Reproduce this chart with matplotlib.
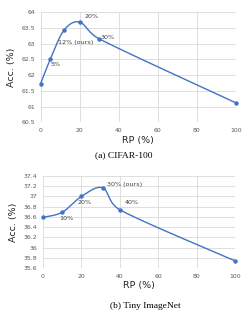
import numpy as np
import matplotlib
matplotlib.use("Agg")
import matplotlib.pyplot as plt

# Data
cifar_rp = [0, 5, 12, 20, 30, 100]
cifar_acc = [61.72, 62.5, 63.42, 63.68, 63.15, 61.12]
cifar_labels = ["", "5%", "12% (ours)", "20%", "30%", ""]

tiny_rp = [0, 10, 20, 31, 40, 100]
tiny_acc = [36.59, 36.69, 37.0, 37.17, 36.74, 35.74]
tiny_labels = ["", "10%", "20%", "30% (ours)", "40%", ""]

cifar_yticks = [60.5, 61, 61.5, 62, 62.5, 63, 63.5, 64]
cifar_yticklabels = ["60.5", "61", "61.5", "62", "62.5", "63", "63.5", "64"]
tiny_yticks = [35.6, 35.8, 36.0, 36.2, 36.4, 36.6, 36.8, 37.0, 37.2, 37.4]
tiny_yticklabels = ["35.6", "35.8", "36", "36.2", "36.4", "36.6", "36.8", "37", "37.2", "37.4"]
xticks = [0, 20, 40, 60, 80, 100]


def smooth(ax, xs, ys, n=60):
    """Excel-like smoothing: cubic Bezier, tangent from neighbours, length capped, in display space."""
    fig.canvas.draw()
    P = ax.transData.transform(np.column_stack([xs, ys]).astype(float))
    out = []
    m = len(P)
    for i in range(m - 1):
        p0 = P[i - 1] if i > 0 else P[i]
        p1 = P[i]
        p2 = P[i + 1]
        p3 = P[i + 2] if i + 2 < m else P[i + 1]
        seg_len = np.linalg.norm(p2 - p1)
        t1 = p2 - p0
        t2 = p3 - p1
        n1 = np.linalg.norm(t1)
        n2 = np.linalg.norm(t2)
        l1 = min(n1 / 6.0, seg_len / 2.0)
        l2 = min(n2 / 6.0, seg_len / 2.0)
        c1 = p1 + (t1 / n1 * l1 if n1 > 0 else 0)
        c2 = p2 - (t2 / n2 * l2 if n2 > 0 else 0)
        t = np.linspace(0, 1, n)[:, None]
        seg = ((1 - t) ** 3) * p1 + 3 * ((1 - t) ** 2) * t * c1 + 3 * (1 - t) * t ** 2 * c2 + t ** 3 * p2
        out.append(seg if i == 0 else seg[1:])
    S = ax.transData.inverted().transform(np.vstack(out))
    return S[:, 0], S[:, 1]


W, H = 247, 319
fig = plt.figure(figsize=(W / 100, H / 100), dpi=100)

line_color = "#4472C4"
grid_color = "#D9D9D9"
tick_color = "#595959"


def setup(ax, yticks, yticklabels, ylim):
    ax.set_xlim(0, 100)
    ax.set_ylim(*ylim)
    ax.set_xticks(xticks)
    ax.set_xticklabels([str(v) for v in xticks])
    ax.set_yticks(yticks)
    ax.set_yticklabels(yticklabels)
    ax.tick_params(axis="both", length=0, labelsize=4.4, labelcolor=tick_color, pad=4)
    ax.grid(True, color=grid_color, linewidth=0.6)
    ax.set_axisbelow(True)
    for s in ax.spines.values():
        s.set_visible(False)
    ax.set_xlabel("RP (%)", fontsize=6.8, color="#262626", labelpad=2)
    ax.set_ylabel("Acc. (%)", fontsize=6.8, color="#262626", labelpad=4)


# Top: CIFAR-100
ax1 = fig.add_axes([40.5 / W, 1 - 122.5 / H, (236 - 40.5) / W, (122.5 - 12) / H])
setup(ax1, cifar_yticks, cifar_yticklabels, (60.5, 64))
# Bottom: Tiny ImageNet
ax2 = fig.add_axes([43 / W, 1 - 268 / H, (235 - 43) / W, (268 - 176) / H])
setup(ax2, tiny_yticks, tiny_yticklabels, (35.6, 37.4))

sx, sy = smooth(ax1, cifar_rp, cifar_acc)
ax1.plot(sx, sy, color=line_color, linewidth=1.0, clip_on=False)
ax1.plot(cifar_rp, cifar_acc, "o", color=line_color, markersize=2.2, clip_on=False)
cifar_text_pos = [None, (5.1, 62.34), (9.2, 63.04), (22.6, 63.87), (30.8, 63.2), None]
for lab, pos in zip(cifar_labels, cifar_text_pos):
    if lab and pos:
        ax1.text(pos[0], pos[1], lab, fontsize=4.6, color="#404040", va="center", ha="left")

sx, sy = smooth(ax2, tiny_rp, tiny_acc)
ax2.plot(sx, sy, color=line_color, linewidth=1.0, clip_on=False)
ax2.plot(tiny_rp, tiny_acc, "o", color=line_color, markersize=2.2, clip_on=False)
tiny_text_pos = [None, (8.3, 36.56), (18.2, 36.89), (33.3, 37.24), (42.7, 36.89), None]
for lab, pos in zip(tiny_labels, tiny_text_pos):
    if lab and pos:
        ax2.text(pos[0], pos[1], lab, fontsize=4.6, color="#404040", va="center", ha="left")

# Captions
fig.text(124 / W, 1 - 155 / H, "(a) CIFAR-100", fontsize=6.8, family="Liberation Serif",
         ha="center", va="center", color="black")
fig.text(145 / W, 1 - 306 / H, "(b) Tiny ImageNet", fontsize=6.8, family="Liberation Serif",
         ha="center", va="center", color="black")

fig.savefig("out.png", dpi=100)
